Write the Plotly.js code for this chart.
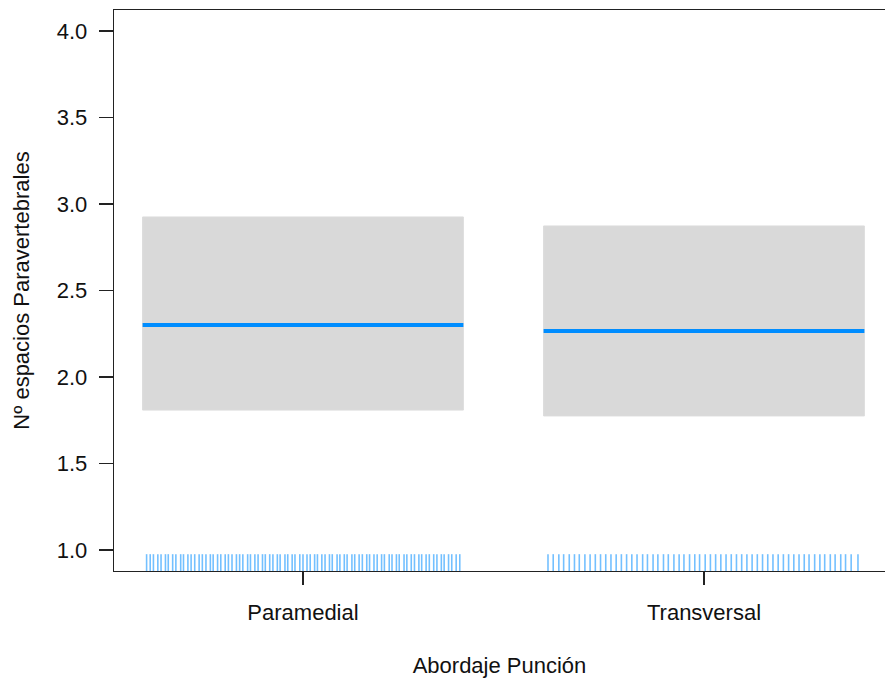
<!DOCTYPE html>
<html>
<head>
<meta charset="utf-8">
<script src="https://cdn.plot.ly/plotly-3.0.1.min.js"></script>
<style>html,body{margin:0;padding:0;background:#fff;}#chart{width:885px;height:682px;}</style>
</head>
<body>
<div id="chart"></div>
<script>
// Data
const categories = ["Paramedial", "Transversal"];
const fitValues = [2.301, 2.266];
const lowerValues = [1.809, 1.775];
const upperValues = [2.925, 2.873];
const yTickValues = [1.0, 1.5, 2.0, 2.5, 3.0, 3.5, 4.0];
const yTickLabels = ["1.0", "1.5", "2.0", "2.5", "3.0", "3.5", "4.0"];

// Rug positions (offset from each category centre, in category units)
const rugParamedial = [-0.390,-0.381,-0.373,-0.362,-0.354,-0.343,-0.336,-0.325,-0.317,-0.305,-0.298,-0.287,-0.279,-0.270,-0.259,-0.251,-0.242,-0.231,-0.224,-0.213,-0.205,-0.194,-0.186,-0.177,-0.166,-0.158,-0.150,-0.138,-0.131,-0.120,-0.112,-0.101,-0.094,-0.083,-0.075,-0.064,-0.057,-0.045,-0.038,-0.027,-0.020,-0.008,0.000,0.010,0.018,0.029,0.036,0.047,0.055,0.066,0.073,0.085,0.092,0.103,0.110,0.122,0.129,0.140,0.148,0.159,0.166,0.177,0.185,0.196,0.203,0.215,0.222,0.233,0.240,0.252,0.259,0.270,0.278,0.289,0.296,0.307,0.315,0.326,0.334,0.345,0.352,0.363,0.371,0.382,0.391];
const rugTransversal = [-0.389,-0.376,-0.362,-0.350,-0.336,-0.323,-0.311,-0.297,-0.284,-0.271,-0.258,-0.245,-0.232,-0.219,-0.206,-0.193,-0.180,-0.167,-0.153,-0.141,-0.127,-0.115,-0.101,-0.089,-0.075,-0.062,-0.050,-0.036,-0.023,-0.011,0.003,0.016,0.029,0.042,0.055,0.068,0.081,0.094,0.107,0.120,0.133,0.146,0.159,0.172,0.185,0.198,0.211,0.224,0.237,0.250,0.262,0.276,0.289,0.301,0.315,0.327,0.341,0.353,0.367,0.384];

const halfWidth = 0.4;
const yMin = 0.879, yMax = 4.121;
const rugTop = yMin + 0.03 * (yMax - yMin);

const traces = [];
categories.forEach((c, i) => {
  traces.push({
    x: [i - halfWidth, i + halfWidth, i + halfWidth, i - halfWidth, i - halfWidth],
    y: [lowerValues[i], lowerValues[i], upperValues[i], upperValues[i], lowerValues[i]],
    type: "scatter", mode: "lines", fill: "toself",
    fillcolor: "#D9D9D9", line: {color: "#DCDCDC", width: 1},
    hoverinfo: "skip", showlegend: false
  });
  traces.push({
    x: [i - halfWidth, i + halfWidth],
    y: [fitValues[i], fitValues[i]],
    type: "scatter", mode: "lines",
    line: {color: "#008DFF", width: 4},
    showlegend: false
  });
});

[rugParamedial, rugTransversal].forEach((rug, i) => {
  const xs = [], ys = [];
  rug.forEach(o => { xs.push(i + o, i + o, null); ys.push(yMin, rugTop, null); });
  traces.push({
    x: xs, y: ys, type: "scatter", mode: "lines",
    line: {color: "rgba(0,141,255,0.55)", width: 1.6},
    hoverinfo: "skip", showlegend: false
  });
});

const font = {family: "Liberation Sans, Arial, sans-serif", size: 22, color: "#111"};
const layout = {
  width: 885, height: 682,
  margin: {l: 114, r: 0, t: 10, b: 111},
  paper_bgcolor: "#fff", plot_bgcolor: "#fff",
  font: font,
  showlegend: false,
  xaxis: {
    range: [-0.4713, 1.4514],
    tickvals: [0, 1], ticktext: categories,
    ticks: "outside", ticklen: 13, tickwidth: 1.3, tickcolor: "#222",
    showline: true, linecolor: "#222", linewidth: 1.3, mirror: true,
    showgrid: false, zeroline: false,
    tickfont: font, ticklabelstandoff: 8,
    title: {text: "Abordaje Punción", font: font, standoff: 34}
  },
  yaxis: {
    range: [yMin, yMax],
    tickvals: yTickValues, ticktext: yTickLabels,
    ticks: "outside", ticklen: 14, tickwidth: 1.3, tickcolor: "#222",
    showline: true, linecolor: "#222", linewidth: 1.3,
    showgrid: false, zeroline: false,
    tickfont: font, ticklabelstandoff: 7,
    title: {text: "Nº espacios Paravertebrales", font: font, standoff: 21}
  }
};

Plotly.newPlot("chart", traces, layout, {displayModeBar: false, staticPlot: true});
</script>
</body>
</html>
